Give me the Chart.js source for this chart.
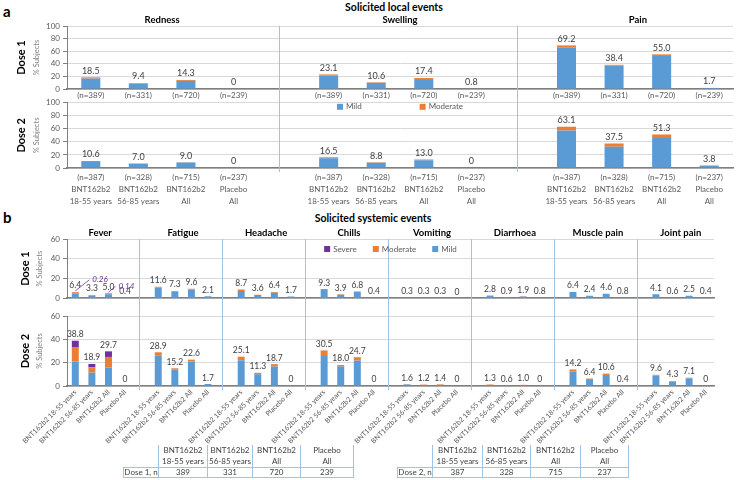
<!DOCTYPE html>
<html>
<head>
<meta charset="utf-8">
<script src="https://cdn.jsdelivr.net/npm/chart.js@4.4.0/dist/chart.umd.min.js"></script>
<style>
  body { margin: 0; background: #fff; font-family: Lato, sans-serif; }
  #wrap { position: relative; width: 739px; height: 480px; overflow: hidden; }
  canvas { position: absolute; left: 0; }
  .head { position: absolute; font-weight: bold; color: #000; white-space: nowrap; }
  .panel { font-size: 15px; }
  .title { font-size: 10.5px; width: 200px; text-align: center; }
  table { position: absolute; border-collapse: collapse; table-layout: fixed; font-size: 8px; color: #404040; }
  td { border: 1px solid #9dc3e6; padding: 0; text-align: center; line-height: 11px; white-space: nowrap; }
  tr.h td { border-top: none; }
  tr.h td.e { border-left: none; }
  tr.b td { line-height: 9px; }
</style>
</head>
<body>
<div id="wrap">
  <div class="head panel" style="left:3px;top:2px">a</div>
  <div class="head title" style="left:294px;top:1px">Solicited local events</div>
  <div class="head panel" style="left:3px;top:208px">b</div>
  <div class="head title" style="left:273px;top:212px">Solicited systemic events</div>

  <canvas id="a1" width="739" height="92" style="top:10px"></canvas>
  <canvas id="a2" width="739" height="115" style="top:95px"></canvas>
  <canvas id="b1" width="739" height="82" style="top:224px"></canvas>
  <canvas id="b2" width="739" height="140" style="top:306px"></canvas>

  <table id="t1" style="left:123px;top:445px">
    <colgroup><col style="width:35px"><col style="width:49px"><col style="width:45px"><col style="width:48px"><col style="width:53px"></colgroup>
  </table>
  <table id="t2" style="left:397px;top:445px">
    <colgroup><col style="width:35px"><col style="width:50px"><col style="width:48px"><col style="width:50px"><col style="width:48px"></colgroup>
  </table>
</div>

<script>
// ---- data ----
const localEvents = ['Redness', 'Swelling', 'Pain'];
const systemicEvents = ['Fever', 'Fatigue', 'Headache', 'Chills', 'Vomiting', 'Diarrhoea', 'Muscle pain', 'Joint pain'];
const armTop = ['BNT162b2', 'BNT162b2', 'BNT162b2', 'Placebo'];
const armBottom = ['18-55 years', '56-85 years', 'All', 'All'];
const nDose1 = [389, 331, 720, 239];
const nDose2 = [387, 328, 715, 237];

// local reactions, % subjects (one row per event, 4 arms)
const localD1Total = [[18.5, 9.4, 14.3, 0], [23.1, 10.6, 17.4, 0.8], [69.2, 38.4, 55.0, 1.7]];
const localD1Mild = [[16.6, 8.5, 12.9, 0], [21.1, 9.7, 15.8, 0.8], [65.5, 37.4, 52.4, 1.7]];
const localD1Moderate = [[1.9, 0.9, 1.4, 0], [2.0, 0.9, 1.6, 0], [3.7, 1.0, 2.6, 0]];
const localD2Total = [[10.6, 7.0, 9.0, 0], [16.5, 8.8, 13.0, 0], [63.1, 37.5, 51.3, 3.8]];
const localD2Mild = [[9.3, 6.2, 8.3, 0], [15.1, 7.9, 11.9, 0], [57.5, 32.5, 46.0, 3.8]];
const localD2Moderate = [[1.3, 0.8, 0.7, 0], [1.4, 0.9, 1.1, 0], [5.6, 5.0, 5.3, 0]];

// systemic events, % subjects
const sysD1Total = [[6.4, 3.3, 5.0, 0.4], [11.6, 7.3, 9.6, 2.1], [8.7, 3.6, 6.4, 1.7], [9.3, 3.9, 6.8, 0.4],
  [0.3, 0.3, 0.3, 0], [2.8, 0.9, 1.9, 0.8], [6.4, 2.4, 4.6, 0.8], [4.1, 0.6, 2.5, 0.4]];
const sysD1Mild = [[4.8, 2.7, 4.0, 0.4], [10.8, 6.6, 8.8, 2.1], [7.3, 3.3, 5.4, 1.7], [8.4, 3.6, 6.4, 0.4],
  [0.3, 0.3, 0.3, 0], [2.6, 0.9, 1.8, 0.8], [6.2, 2.4, 4.4, 0.8], [4.1, 0.6, 2.5, 0.4]];
const sysD1Moderate = [[1.3, 0.6, 0.9, 0], [0.8, 0.7, 0.8, 0], [1.4, 0.3, 1.0, 0], [0.9, 0.3, 0.4, 0],
  [0, 0, 0, 0], [0.2, 0, 0.1, 0], [0.2, 0, 0.2, 0], [0, 0, 0, 0]];
const sysD1Severe = [[0.3, 0, 0.1, 0], [0, 0, 0, 0], [0, 0, 0, 0], [0, 0, 0, 0],
  [0, 0, 0, 0], [0, 0, 0, 0], [0, 0, 0, 0], [0, 0, 0, 0]];
const feverD1SevereNote = [0.26, null, 0.14, null];

const sysD2Total = [[38.8, 18.9, 29.7, 0], [28.9, 15.2, 22.6, 1.7], [25.1, 11.3, 18.7, 0], [30.5, 18.0, 24.7, 0],
  [1.6, 1.2, 1.4, 0], [1.3, 0.6, 1.0, 0], [14.2, 6.4, 10.6, 0.4], [9.6, 4.3, 7.1, 0]];
const sysD2Mild = [[21.1, 11.5, 15.7, 0], [26.3, 14.2, 21.0, 1.7], [22.0, 10.1, 16.7, 0], [25.7, 16.8, 21.8, 0],
  [1.3, 0.6, 0.9, 0], [0.7, 0.6, 0.6, 0], [12.5, 5.9, 9.4, 0.4], [9.0, 3.9, 6.6, 0]];
const sysD2Moderate = [[12.3, 4.5, 9.2, 0], [2.6, 1.0, 1.6, 0], [3.1, 1.2, 2.0, 0], [4.8, 1.2, 2.9, 0],
  [0.3, 0.6, 0.5, 0], [0.6, 0, 0.4, 0], [1.7, 0.5, 1.2, 0], [0.6, 0.4, 0.5, 0]];
const sysD2Severe = [[5.4, 2.9, 4.8, 0], [0, 0, 0, 0], [0, 0, 0, 0], [0, 0, 0, 0],
  [0, 0, 0, 0], [0, 0, 0, 0], [0, 0, 0, 0], [0, 0, 0, 0]];

// ---- styling ----
const MILD = '#5b9bd5', MOD = '#ed7d31', SEV = '#7030a0', SEP = '#9dc3e6';
Chart.defaults.font.family = 'Lato, "Open Sans", sans-serif';
Chart.defaults.color = '#595959';
Chart.defaults.animation = false;

// groups of 4 arms with one empty slot between events
const flat = groups => groups.flatMap((g, i) => i ? [null, ...g] : g);
const perArm = (nGroups, fn) => flat(Array.from({ length: nGroups }, () => armTop.map((t, i) => fn(i))))
  .map(l => l === null ? '' : l);

const deco = {
  id: 'deco',
  beforeDatasetsDraw(chart, args, o) {
    const { ctx, chartArea: a, scales: { x } } = chart;
    ctx.save();
    ctx.strokeStyle = SEP;
    ctx.lineWidth = 1;
    for (let g = 1; g < o.groups.length; g++) {
      const px = Math.round(x.getPixelForValue(g * 5 - 1 + o.sepShift)) + 0.5;
      ctx.beginPath();
      ctx.moveTo(px, o.sepToTop ? 0 : a.top);
      ctx.lineTo(px, o.sepToBottom ? chart.height : a.bottom + 4);
      ctx.stroke();
    }
    ctx.restore();
  },
  afterDatasetsDraw(chart, args, o) {
    const { ctx, chartArea: a, scales: { x, y } } = chart;
    ctx.save();
    ctx.textAlign = 'center';
    ctx.textBaseline = 'bottom';
    ctx.fillStyle = '#404040';
    ctx.font = o.valueSize + 'px Lato';
    o.totals.forEach((v, i) => {
      if (v === null) return;
      ctx.fillText(v === 0 ? '0' : v.toFixed(1), x.getPixelForValue(i), y.getPixelForValue(v) - 2);
    });

    if (o.titleY != null) {
      ctx.fillStyle = '#000';
      ctx.font = 'bold 9.5px Lato';
      ctx.textBaseline = 'middle';
      o.groups.forEach((name, g) => {
        const cx = (x.getPixelForValue(g * 5) + x.getPixelForValue(g * 5 + 3)) / 2;
        ctx.fillText(name, cx, o.titleY);
      });
    }

    if (o.legend) {
      const items = chart.data.datasets.map(d => ({ t: d.label, c: d.backgroundColor }));
      if (o.legend.reverse) items.reverse();
      ctx.font = '8px Lato';
      ctx.textBaseline = 'middle';
      ctx.textAlign = 'left';
      const widths = items.map(it => 9 + ctx.measureText(it.t).width);
      const total = widths.reduce((s, w) => s + w, 0) + o.legend.gap * (items.length - 1);
      let lx = (a.left + a.right) / 2 - total / 2;
      const ly = a.top + o.legend.dy;
      items.forEach((it, k) => {
        ctx.fillStyle = it.c;
        ctx.fillRect(lx, ly - 3, 6, 6);
        ctx.fillStyle = '#595959';
        ctx.fillText(it.t, lx + 9, ly);
        lx += widths[k] + o.legend.gap;
      });
    }

    // small italic callouts for severe fever after dose 1
    if (o.notes) {
      const offs = [[17, -12], null, [10, -7], null];
      ctx.strokeStyle = SEV;
      ctx.fillStyle = SEV;
      ctx.lineWidth = 0.8;
      ctx.font = 'italic 8px Lato';
      ctx.textAlign = 'left';
      ctx.textBaseline = 'middle';
      o.notes.forEach((v, i) => {
        if (v === null) return;
        const bx = x.getPixelForValue(i), by = y.getPixelForValue(o.totals[i]);
        const [dx, dy] = offs[i];
        ctx.beginPath();
        ctx.moveTo(bx, by - 1);
        ctx.lineTo(bx + dx - 3, by + dy);
        ctx.stroke();
        ctx.fillText(v.toFixed(2), bx + dx, by + dy);
      });
    }

    const mid = (a.top + a.bottom) / 2;
    ctx.textAlign = 'center';
    ctx.textBaseline = 'middle';
    ctx.translate(0, mid);
    ctx.rotate(-Math.PI / 2);
    ctx.fillStyle = '#000';
    ctx.font = 'bold 11px Lato';
    ctx.fillText(o.dose, 0, o.doseX);
    ctx.fillStyle = '#7f7f7f';
    ctx.font = '7.5px Lato';
    ctx.fillText('% Subjects', 0, o.subjX);
    ctx.restore();
  }
};

function yAxis(max) {
  return {
    min: 0, max, stacked: true,
    afterFit: s => { s.width = 67; },
    ticks: { stepSize: 20, font: { size: 8 }, color: '#595959', padding: 3 },
    grid: { color: '#d9d9d9', tickColor: '#808080', tickLength: 4 },
    border: { color: '#808080' }
  };
}

function xAxis(labels, height, ticks) {
  return {
    type: 'category', labels, stacked: true,
    afterFit: s => { s.height = height; },
    grid: { display: false, drawTicks: false },
    border: { color: '#7f7f7f', width: 1.5 },
    ticks: Object.assign({ autoSkip: false, maxRotation: 0, minRotation: 0, font: { size: 8 }, color: '#595959', padding: 2 }, ticks)
  };
}

function bars(label, data, color, pct) {
  return { label, data, backgroundColor: color, stack: 's', barPercentage: pct, categoryPercentage: 1 };
}

function makeChart(id, o) {
  return new Chart(document.getElementById(id), {
    type: 'bar',
    data: { datasets: o.datasets },
    options: {
      responsive: false,
      layout: { padding: { top: o.padTop, right: 739 - o.right, left: 0, bottom: 0 } },
      scales: { x: o.x, y: yAxis(o.max) },
      plugins: { legend: { display: false }, tooltip: { enabled: false }, deco: o.deco }
    },
    plugins: [deco]
  });
}

// ---- panel a ----
makeChart('a1', {
  padTop: 16, right: 733, max: 100,
  x: xAxis(perArm(3, i => '(n=' + nDose1[i] + ')'), 13),
  datasets: [bars('Mild', flat(localD1Mild), MILD, 0.4), bars('Moderate', flat(localD1Moderate), MOD, 0.4)],
  deco: { groups: localEvents, totals: flat(localD1Total), valueSize: 9, titleY: 10, sepShift: -0.05,
    sepToTop: false, sepToBottom: true, dose: 'Dose 1', doseX: 21, subjX: 37 }
});
makeChart('a2', {
  padTop: 6, right: 733, max: 100,
  x: xAxis(perArm(3, i => ['(n=' + nDose2[i] + ')', armTop[i], armBottom[i]]), 42,
    { font: { size: 8, lineHeight: 1.5 }, padding: 3 }),
  datasets: [bars('Mild', flat(localD2Mild), MILD, 0.4), bars('Moderate', flat(localD2Moderate), MOD, 0.4)],
  deco: { groups: localEvents, totals: flat(localD2Total), valueSize: 9, sepShift: -0.05,
    sepToTop: true, sepToBottom: false, legend: { dy: 4, gap: 58, reverse: false },
    dose: 'Dose 2', doseX: 21, subjX: 37 }
});

// ---- panel b ----
makeChart('b1', {
  padTop: 15, right: 714, max: 60,
  x: xAxis(perArm(8, () => ''), 2, { display: false }),
  datasets: [bars('Mild', flat(sysD1Mild), MILD, 0.42), bars('Moderate', flat(sysD1Moderate), MOD, 0.42),
    bars('Severe', flat(sysD1Severe), SEV, 0.42)],
  deco: { groups: systemicEvents, totals: flat(sysD1Total), valueSize: 8.5, titleY: 9, sepShift: -0.15,
    sepToTop: false, sepToBottom: true, legend: { dy: 10, gap: 16, reverse: true },
    notes: feverD1SevereNote, dose: 'Dose 1', doseX: 25, subjX: 40 }
});
makeChart('b2', {
  padTop: 10, right: 714, max: 60,
  x: xAxis(perArm(8, i => armTop[i] + ' ' + armBottom[i]), 60,
    { font: { size: 7 }, maxRotation: 45, minRotation: 45, padding: 2 }),
  datasets: [bars('Mild', flat(sysD2Mild), MILD, 0.42), bars('Moderate', flat(sysD2Moderate), MOD, 0.42),
    bars('Severe', flat(sysD2Severe), SEV, 0.42)],
  deco: { groups: systemicEvents, totals: flat(sysD2Total), valueSize: 8.5, sepShift: -0.15,
    sepToTop: true, sepToBottom: false, dose: 'Dose 2', doseX: 25, subjX: 40 }
});

// ---- n tables ----
function fillTable(id, dose, ns) {
  const t = document.getElementById(id);
  t.insertAdjacentHTML('beforeend',
    '<tr class="h"><td class="e"></td>' + armTop.map((s, i) => '<td>' + s + '<br>' + armBottom[i] + '</td>').join('') + '</tr>' +
    '<tr class="b"><td>' + dose + ', n</td>' + ns.map(n => '<td>' + n + '</td>').join('') + '</tr>');
}
fillTable('t1', 'Dose 1', nDose1);
fillTable('t2', 'Dose 2', nDose2);
</script>
</body>
</html>
